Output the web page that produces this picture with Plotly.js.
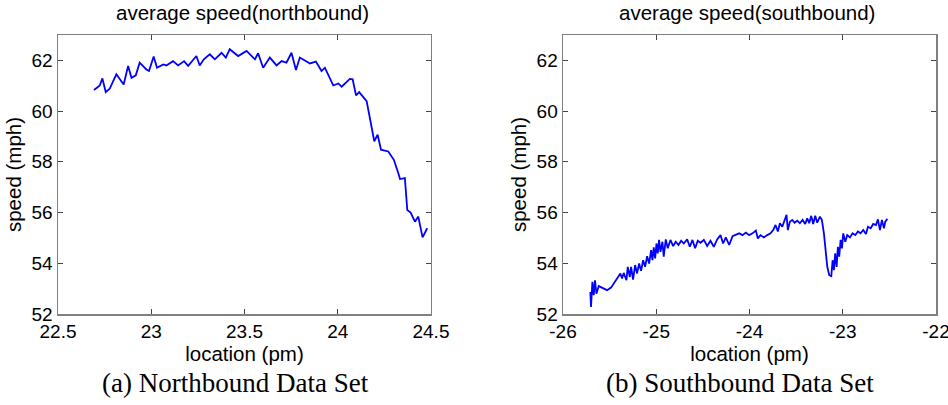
<!DOCTYPE html>
<html>
<head>
<meta charset="utf-8">
<script src="https://cdn.plot.ly/plotly-3.0.1.min.js"></script>
<style>html,body{margin:0;padding:0;background:#fff;}#chart{width:948px;height:405px;}</style>
</head>
<body>
<div id="chart"></div>
<script>
// Northbound data set
const northLocation = [22.693,22.724,22.738,22.756,22.777,22.813,22.852,22.876,22.894,22.917,22.938,22.974,22.988,23.013,23.031,23.064,23.081,23.117,23.144,23.176,23.198,23.242,23.26,23.282,23.314,23.341,23.377,23.40,23.421,23.466,23.511,23.556,23.573,23.60,23.636,23.672,23.699,23.725,23.752,23.776,23.797,23.851,23.883,23.913,23.931,23.976,24.003,24.021,24.065,24.08,24.098,24.115,24.155,24.196,24.214,24.232,24.271,24.301,24.325,24.334,24.36,24.373,24.391,24.414,24.432,24.455,24.48];
const northSpeed = [60.83,61.01,61.29,60.75,60.88,61.45,61.05,61.78,61.31,61.41,61.91,61.64,61.58,62.15,61.71,61.84,61.80,61.97,61.80,61.97,61.78,62.17,61.80,62.04,62.24,62.04,62.30,62.11,62.44,62.17,62.37,62.04,62.28,61.71,62.11,61.80,61.97,61.91,62.30,61.62,62.11,61.88,61.95,61.58,61.71,61.01,61.09,60.96,61.27,61.25,60.62,60.75,60.39,58.81,59.07,58.48,58.41,58.08,57.55,57.32,57.36,56.10,56.00,55.64,55.84,55.02,55.38];

// Southbound data set
const southLocation = [-25.707,-25.70,-25.685,-25.671,-25.657,-25.642,-25.617,-25.581,-25.528,-25.485,-25.456,-25.42,-25.385,-25.367,-25.349,-25.32,-25.306,-25.284,-25.27,-25.249,-25.227,-25.206,-25.184,-25.163,-25.141,-25.12,-25.098,-25.077,-25.055,-25.041,-25.027,-25.012,-24.998,-24.984,-24.97,-24.955,-24.934,-24.92,-24.898,-24.877,-24.848,-24.819,-24.791,-24.762,-24.733,-24.705,-24.669,-24.64,-24.612,-24.583,-24.555,-24.526,-24.49,-24.454,-24.419,-24.383,-24.347,-24.311,-24.283,-24.254,-24.218,-24.182,-24.147,-24.111,-24.075,-24.039,-24.004,-23.968,-23.932,-23.911,-23.882,-23.846,-23.81,-23.775,-23.746,-23.721,-23.696,-23.674,-23.649,-23.624,-23.603,-23.589,-23.567,-23.542,-23.517,-23.488,-23.46,-23.431,-23.403,-23.381,-23.36,-23.338,-23.317,-23.295,-23.274,-23.245,-23.224,-23.202,-23.184,-23.166,-23.145,-23.123,-23.109,-23.095,-23.081,-23.066,-23.052,-23.038,-23.023,-23.009,-22.995,-22.973,-22.952,-22.923,-22.894,-22.866,-22.837,-22.809,-22.78,-22.751,-22.73,-22.701,-22.673,-22.644,-22.623,-22.601,-22.58,-22.558,-22.544,-22.522];
const southSpeed = [52.87,52.28,53.27,52.74,53.33,52.80,53.10,53.04,52.94,53.04,53.20,53.40,53.60,53.40,53.62,53.33,53.86,53.46,53.86,53.36,53.93,53.60,53.99,53.70,54.12,53.86,54.28,53.99,54.52,54.12,54.63,54.19,54.78,54.39,54.92,54.45,54.85,54.26,54.94,54.59,54.92,54.68,54.85,54.72,54.89,54.78,54.94,54.65,54.92,54.59,54.89,54.81,54.92,54.68,54.89,54.65,54.94,55.11,54.78,55.02,54.72,55.07,55.11,55.18,55.11,55.21,55.11,55.18,55.29,54.98,55.11,55.02,55.11,55.18,55.31,55.51,55.25,55.58,55.44,55.71,55.91,55.31,55.64,55.71,55.60,55.68,55.58,55.71,55.55,55.77,55.58,55.87,55.55,55.87,55.60,55.84,55.71,55.18,54.39,53.86,53.53,53.49,54.12,53.73,54.39,53.86,54.65,54.26,54.92,54.59,55.18,54.85,55.11,55.02,55.18,55.11,55.25,55.18,55.31,55.15,55.44,55.38,55.55,55.51,55.73,55.31,55.71,55.38,55.64,55.75];

const northTicksX = [22.5, 23, 23.5, 24, 24.5];
const northTickTextX = ['22.5', '23', '23.5', '24', '24.5'];
const southTicksX = [-26, -25, -24, -23, -22];
const southTickTextX = ['-26', '-25', '-24', '-23', '-22'];
const speedTicks = [52, 54, 56, 58, 60, 62];

const titles = ['average speed(northbound)', 'average speed(southbound)'];
const captions = ['(a) Northbound Data Set', '(b) Southbound Data Set'];
const xTitle = 'location (pm)';
const yTitle = 'speed (mph)';

const sans = 'Arial, "Liberation Sans", sans-serif';
const serif = '"Liberation Serif", "Times New Roman", serif';

const lineStyle = {color: '#0000ff', width: 1.8};

const traces = [
  {x: northLocation, y: northSpeed, type: 'scatter', mode: 'lines', line: lineStyle, xaxis: 'x', yaxis: 'y', hoverinfo: 'x+y'},
  {x: southLocation, y: southSpeed, type: 'scatter', mode: 'lines', line: lineStyle, xaxis: 'x2', yaxis: 'y2', hoverinfo: 'x+y'}
];

function xAxis(domain, range, vals, text, anchor) {
  return {
    domain: domain, range: range, anchor: anchor,
    tickmode: 'array', tickvals: vals, ticktext: text,
    ticks: 'inside', ticklen: 5, tickwidth: 1, tickcolor: '#444',
    showline: true, linecolor: '#808080', linewidth: 1.5, mirror: 'ticks',
    showgrid: false, zeroline: false, ticklabeloverflow: 'allow',
    tickfont: {family: sans, size: 19, color: '#000'},
    title: {text: xTitle, font: {family: sans, size: 20.5, color: '#000'}, standoff: 0},
    fixedrange: true
  };
}
function yAxis(anchor) {
  return {
    domain: [0, 1], range: [52, 63], anchor: anchor,
    tickmode: 'array', tickvals: speedTicks,
    ticks: 'inside', ticklen: 5, tickwidth: 1, tickcolor: '#444',
    showline: true, linecolor: '#808080', linewidth: 1.5, mirror: 'ticks',
    showgrid: false, zeroline: false, ticklabeloverflow: 'allow',
    tickfont: {family: sans, size: 19, color: '#000'},
    title: {text: yTitle, font: {family: sans, size: 20.5, color: '#000'}, standoff: 4},
    fixedrange: true
  };
}

const leftDomain = [0, 0.4248];
const rightDomain = [0.5752, 1];

const layout = {
  width: 948, height: 405,
  margin: {l: 58, r: 12, t: 35, b: 91},
  paper_bgcolor: '#fff', plot_bgcolor: '#fff',
  showlegend: false,
  xaxis: xAxis(leftDomain, [22.5, 24.5], northTicksX, northTickTextX, 'y'),
  yaxis: yAxis('x'),
  xaxis2: xAxis(rightDomain, [-26, -22], southTicksX, southTickTextX, 'y2'),
  yaxis2: yAxis('x2'),
  annotations: [
    {text: titles[0], xref: 'paper', yref: 'paper', x: 0.2101, y: 1.0789, xanchor: 'center', yanchor: 'middle', showarrow: false, font: {family: sans, size: 20.5, color: '#000'}},
    {text: titles[1], xref: 'paper', yref: 'paper', x: 0.7847, y: 1.0789, xanchor: 'center', yanchor: 'middle', showarrow: false, font: {family: sans, size: 20.5, color: '#000'}},
    {text: captions[0], xref: 'paper', yref: 'paper', x: 0.2022, y: -0.2473, xanchor: 'center', yanchor: 'middle', showarrow: false, font: {family: serif, size: 27, color: '#000'}},
    {text: captions[1], xref: 'paper', yref: 'paper', x: 0.7773, y: -0.2473, xanchor: 'center', yanchor: 'middle', showarrow: false, font: {family: serif, size: 27, color: '#000'}}
  ]
};

Plotly.newPlot('chart', traces, layout, {displayModeBar: false, staticPlot: true});
</script>
</body>
</html>
